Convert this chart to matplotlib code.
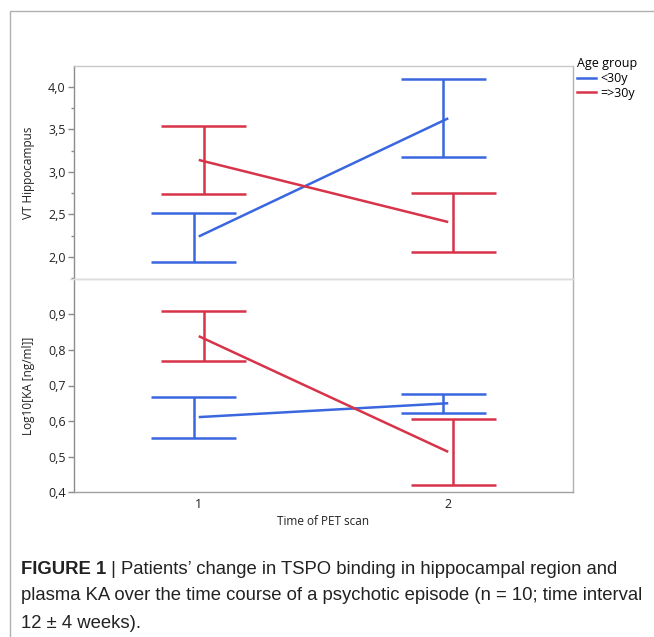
import matplotlib
matplotlib.use("Agg")
import matplotlib.pyplot as plt
from matplotlib.lines import Line2D
from matplotlib.ticker import FuncFormatter, MultipleLocator, FixedLocator

# data (mean, upper, lower) at PET scan 1 and 2
times = [1, 2]
groups = ["<30y", "=>30y"]
colors = ["#3a67df", "#d7344a"]

vt_mean = [[2.24, 3.63], [3.14, 2.41]]
vt_hi = [[2.52, 4.09], [3.54, 2.75]]
vt_lo = [[1.94, 3.17], [2.74, 2.06]]

ka_mean = [[0.611, 0.650], [0.839, 0.513]]
ka_hi = [[0.668, 0.675], [0.909, 0.605]]
ka_lo = [[0.551, 0.623], [0.768, 0.420]]
ka_ticks = [0.4, 0.5, 0.6, 0.7, 0.8, 0.9]

caption = ["plasma KA over the time course of a psychotic episode (n = 10; time interval",
           "12 \u00b1 4 weeks)."]

W, H = 654, 637
fig = plt.figure(figsize=(W / 100, H / 100), dpi=100)
plt.rcParams['font.family'] = ['Open Sans', 'DejaVu Sans']

def px(x0, y0, x1, y1):
    return [x0 / W, 1 - y1 / H, (x1 - x0) / W, (y1 - y0) / H]

ax1 = fig.add_axes(px(74, 66, 573, 279))
ax2 = fig.add_axes(px(74, 279, 573, 492))

comma = FuncFormatter(lambda v, p: f"{v:.1f}".replace(".", ","))
offs = [-0.02, 0.02]
cap = 0.17
for ax, m, hi, lo in [(ax1, vt_mean, vt_hi, vt_lo), (ax2, ka_mean, ka_hi, ka_lo)]:
    for g in range(2):
        xs = [t + offs[g] for t in times]
        ax.vlines(xs, lo[g], hi[g], color=colors[g], lw=1.8)
        for x, a, b in zip(xs, lo[g], hi[g]):
            ax.hlines([a, b], x - cap, x + cap, color=colors[g], lw=1.8)
        ax.plot(times, m[g], color=colors[g], lw=1.8, solid_capstyle='butt')
    ax.set_xlim(0.5, 2.5)
    for s in ax.spines.values():
        s.set_linewidth(1)
    ax.spines['left'].set_color('#8c8c8c')
    ax.spines['right'].set_color('#b0b0b0')
    ax.spines['top'].set_color('#c8c8c8')
    ax.spines['bottom'].set_color('#dcdcdc')
    ax.yaxis.set_major_formatter(comma)
    ax.tick_params(axis='y', length=4, width=1, color='#8c8c8c', labelsize=9,
                   labelcolor='#222222', pad=2)
    ax.tick_params(axis='y', which='minor', length=2.5, width=1, color='#8c8c8c')

ax1.set_ylim(1.74, 4.245)
ax1.yaxis.set_major_locator(MultipleLocator(0.5))
ax1.yaxis.set_minor_locator(MultipleLocator(0.25))
ax1.set_xticks([])

ax2.set_ylim(0.4, 1.0)
ax2.yaxis.set_major_locator(FixedLocator(ka_ticks))
ax2.set_xticks(times)
ax2.tick_params(axis='x', length=0, labelsize=9, labelcolor='#222222', pad=4)
ax2.spines['bottom'].set_color('#a0a0a0')
ax2.spines['top'].set_color('#dcdcdc')

ax1.set_ylabel("VT Hippocampus", fontsize=8.5, color='#222222')
ax2.set_ylabel("Log10[KA [ng/ml]]", fontsize=8.5, color='#222222')
ax1.yaxis.set_label_coords(-39 / 499, 0.5)
ax2.yaxis.set_label_coords(-39 / 499, 0.5)
ax2.set_xlabel("Time of PET scan", fontsize=8.5, color='#222222', labelpad=3)

# separator between the panels, and figure frame
fig.add_artist(Line2D([70 / W, 573 / W], [1 - 279 / H] * 2, color='#dcdcdc', lw=1))
fig.add_artist(Line2D([9.5 / W, 9.5 / W, 1], [0, 1 - 10.5 / H, 1 - 10.5 / H], color='#b0b0b0', lw=1))

handles = [Line2D([], [], color=c, lw=1.8) for c in colors]
leg = fig.legend(handles, groups, loc='upper left', bbox_to_anchor=(577 / W, 1 - 57 / H),
                 frameon=False, title="Age group", fontsize=9, title_fontsize=9,
                 handlelength=1.55, handletextpad=0.3, borderpad=0, labelspacing=0.15,
                 borderaxespad=0)
leg._legend_box.align = "left"

fig.canvas.draw()
r = fig.canvas.get_renderer()
cap_font = dict(family='Liberation Sans', fontsize=13.3, color='#222222')
t = fig.text(21 / W, 1 - 569 / H, "FIGURE 1", fontweight='bold', va='center', **cap_font)
bb = t.get_window_extent(r)
fig.text(bb.x1 / W, 1 - 569 / H, " | Patients\u2019 change in TSPO binding in hippocampal region and",
         va='center', **cap_font)
for i, line in enumerate(caption):
    fig.text(21 / W, 1 - (596 + 27 * i) / H, line, va='center', **cap_font)

fig.savefig("out.png", dpi=100)
